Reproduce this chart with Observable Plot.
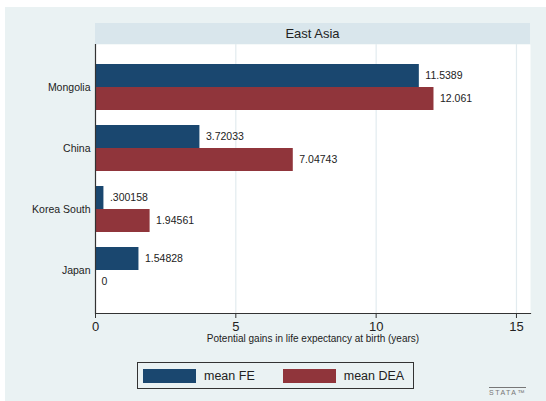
<!DOCTYPE html>
<html><head><meta charset="utf-8">
<script src="https://cdn.jsdelivr.net/npm/d3@7"></script>
<script src="https://cdn.jsdelivr.net/npm/@observablehq/plot@0.6"></script>
<style>
body{margin:0;background:#fff;font-family:"Liberation Sans",Arial,sans-serif;}
#panel{position:absolute;left:5px;top:7px;width:541px;height:394px;background:#eaf2f3;}
#chart{position:absolute;left:0;top:0;}
#strip{position:absolute;left:90px;top:16px;width:435px;height:21px;background:#d9e6ec;text-align:center;font-size:13px;line-height:21px;color:#222;}
#legend{position:absolute;left:132px;top:355px;width:275px;height:25px;border:1px solid #333;display:flex;align-items:center;font-size:12.5px;color:#222;white-space:nowrap;}
#legend .sw{flex:none;width:53px;height:14px;margin-left:5px;margin-right:8px;}
#legend .lab{flex:none;margin-right:23px;}
#stata{position:absolute;left:484px;top:380px;font-size:7px;letter-spacing:1.5px;color:#777;border-top:1px solid #777;padding-top:1px;line-height:7px;}
</style></head>
<body>
<div id="panel"><div id="chart"></div><div id="strip"></div><div id="legend"></div><div id="stata">STATA™</div></div>
<script>
const panelTitle = "East Asia";
const countries = ["Mongolia", "China", "Korea South", "Japan"];
const meanFE = [11.5389, 3.72033, 0.300158, 1.54828];
const meanDEA = [12.061, 7.04743, 1.94561, 0];
const seriesNames = ["mean FE", "mean DEA"];
const seriesColors = ["#1a476f", "#90353b"];
const xTicks = [0, 5, 10, 15];
const xTitle = "Potential gains in life expectancy at birth (years)";

const fe = countries.map((c, i) => ({country: c, value: meanFE[i]}));
const dea = countries.map((c, i) => ({country: c, value: meanDEA[i]}));

const W = 541, H = 345, mL = 90, mR = 16, mT = 37, mB = 39;
const pIn = 0.25, pOut = 0.318;
const innerH = H - mT - mB;
const step = innerH / (countries.length - pIn + 2 * pOut);
const bw = step * (1 - pIn);

const fmt = v => {
  let s = d3.format(".6")(v);
  return s.replace(/^0\./, ".");
};

const chart = Plot.plot({
  width: W, height: H,
  marginLeft: mL, marginRight: mR, marginTop: mT, marginBottom: mB,
  style: {background: "transparent", fontFamily: "Liberation Sans, Arial, sans-serif", color: "#222"},
  x: {domain: [0, 15.5]},
  y: {type: "band", domain: countries, paddingInner: pIn, paddingOuter: pOut},
  marks: [
    Plot.frame({fill: "white", stroke: "none"}),
    Plot.ruleX(xTicks.filter(d => d > 0), {stroke: "#e2ebef", strokeWidth: 1.2}),
    Plot.barX(fe, {x: "value", y: "country", fill: seriesColors[0], insetBottom: bw / 2, insetTop: 0}),
    Plot.barX(dea, {x: "value", y: "country", fill: seriesColors[1], insetTop: bw / 2, insetBottom: 0}),
    Plot.text(fe, {x: "value", y: "country", text: d => fmt(d.value), dx: 6, dy: -bw / 4, textAnchor: "start", fontSize: 10.5, fill: "#222"}),
    Plot.text(dea, {x: "value", y: "country", text: d => fmt(d.value), dx: 6, dy: bw / 4, textAnchor: "start", fontSize: 10.5, fill: "#222"}),
    Plot.ruleX([0], {stroke: "#333", strokeWidth: 1.2}),
    Plot.frame({anchor: "bottom", stroke: "#333", strokeWidth: 1.2}),
    Plot.axisY({tickSize: 0, tickPadding: 5, fontSize: 10.5, label: null}),
    Plot.axisX({ticks: xTicks, tickSize: 5, tickPadding: 3, fontSize: 13, label: null, stroke: "#333"}),
    Plot.text([xTitle], {frameAnchor: "bottom", dy: 28, text: d => d, fontSize: 10, fill: "#222"})
  ]
});
document.getElementById("chart").appendChild(chart);
document.getElementById("strip").textContent = panelTitle;

const lg = document.getElementById("legend");
seriesNames.forEach((n, i) => {
  const sw = document.createElement("span"); sw.className = "sw"; sw.style.background = seriesColors[i];
  const lab = document.createElement("span"); lab.className = "lab"; lab.textContent = n;
  lg.appendChild(sw); lg.appendChild(lab);
});
</script>
</body></html>
